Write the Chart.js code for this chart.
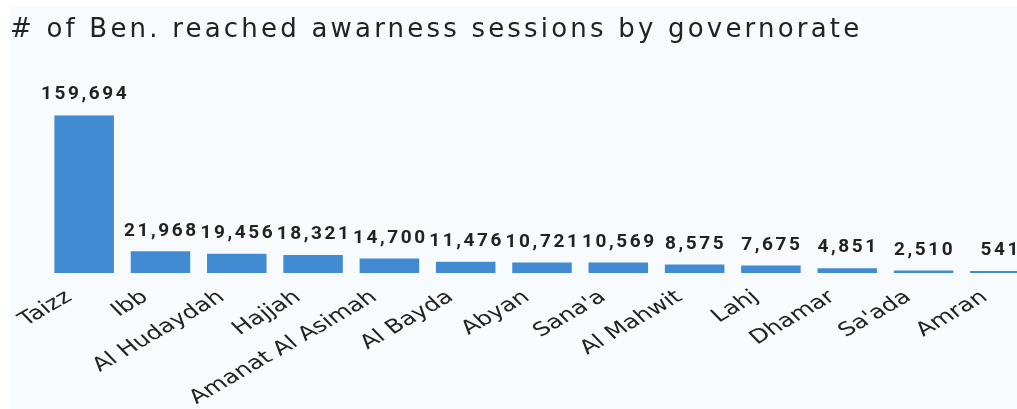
<!DOCTYPE html>
<html>
<head>
<meta charset="utf-8">
<script src="https://cdn.jsdelivr.net/npm/chart.js@4.4.1/dist/chart.umd.min.js"></script>
<style>
  html, body { margin: 0; padding: 0; background: #ffffff; overflow: hidden; }
  #wrap { position: absolute; left: 10px; top: 6px; width: 1040px; height: 403px; background: #f8fbfe; }
</style>
</head>
<body>
<div id="wrap"><canvas id="graficoGovernorados"></canvas></div>
<script>
// dados do gráfico
const titulo = '# of Ben. reached awarness sessions by governorate';
const governorados = ['Taizz', 'Ibb', 'Al Hudaydah', 'Hajjah', 'Amanat Al Asimah', 'Al Bayda',
    'Abyan', "Sana'a", 'Al Mahwit', 'Lahj', 'Dhamar', "Sa'ada", 'Amran'];
const beneficiarios = [159694, 21968, 19456, 18321, 14700, 11476, 10721, 10569, 8575, 7675, 4851, 2510, 541];

// o texto da imagem original é bem "esticado" na horizontal
const ESTICAR = 1.3;

const espacamento = {
    id: 'espacamento',
    beforeLayout(chart) { chart.ctx.letterSpacing = '3.2px'; },
    beforeDraw(chart) { chart.ctx.letterSpacing = '3.2px'; }
};

// valores em cima das barras + nomes inclinados embaixo do eixo x
const rotulos = {
    id: 'rotulos',
    afterDatasetsDraw(chart) {
        const ctx = chart.ctx;
        const meta = chart.getDatasetMeta(0);
        const eixoX = chart.scales.x;
        ctx.save();
        ctx.font = 'bold 19px Roboto';
        ctx.letterSpacing = '2.6px';
        ctx.fillStyle = '#222222';
        ctx.textAlign = 'center';
        ctx.textBaseline = 'bottom';
        meta.data.forEach((bar, i) => {
            ctx.fillText(beneficiarios[i].toLocaleString('en-US'), bar.x + 1, bar.y - 11);
        });
        ctx.restore();

        ctx.save();
        ctx.font = '19px "DejaVu Sans"';
        ctx.letterSpacing = '0px';
        ctx.fillStyle = '#222222';
        ctx.textAlign = 'right';
        ctx.textBaseline = 'middle';
        governorados.forEach((nome, i) => {
            const x = eixoX.getPixelForTick(i);
            ctx.save();
            ctx.translate(x - 15, eixoX.top + 22);
            ctx.scale(ESTICAR, 1);
            ctx.rotate(-37 * Math.PI / 180);
            ctx.fillText(nome, 0, 0);
            ctx.restore();
        });
        ctx.restore();
    }
};

function carregarGrafico() {
    const ctx = document.getElementById('graficoGovernorados').getContext('2d');
    window.graficoGovernorados = new Chart(ctx, {
        type: 'bar',
        data: {
            labels: governorados,
            datasets: [{
                label: 'Beneficiaries',
                data: beneficiarios,
                backgroundColor: '#418bd2',
                borderWidth: 0,
                barPercentage: 0.78,
                categoryPercentage: 1,
                minBarLength: 2
            }]
        },
        options: {
            responsive: true,
            maintainAspectRatio: false,
            animation: false,
            layout: { padding: { left: 0, right: 12, top: 0, bottom: 136 } },
            plugins: {
                legend: { display: false },
                tooltip: { enabled: false },
                title: {
                    display: true,
                    text: titulo,
                    align: 'start',
                    color: '#222222',
                    font: { family: 'DejaVu Sans', size: 26, weight: 'normal' },
                    padding: { top: 9, bottom: 69 }
                }
            },
            scales: {
                x: {
                    grid: { display: false, drawTicks: false },
                    border: { display: false },
                    ticks: { display: false }
                },
                y: {
                    min: 0,
                    max: 159694,
                    grid: { display: false, drawTicks: false },
                    border: { display: false },
                    ticks: { display: false },
                    afterFit(scale) { scale.width = 36; }
                }
            }
        },
        plugins: [espacamento, rotulos]
    });
}

document.addEventListener('DOMContentLoaded', () => {
    carregarGrafico();
});
</script>
</body>
</html>
